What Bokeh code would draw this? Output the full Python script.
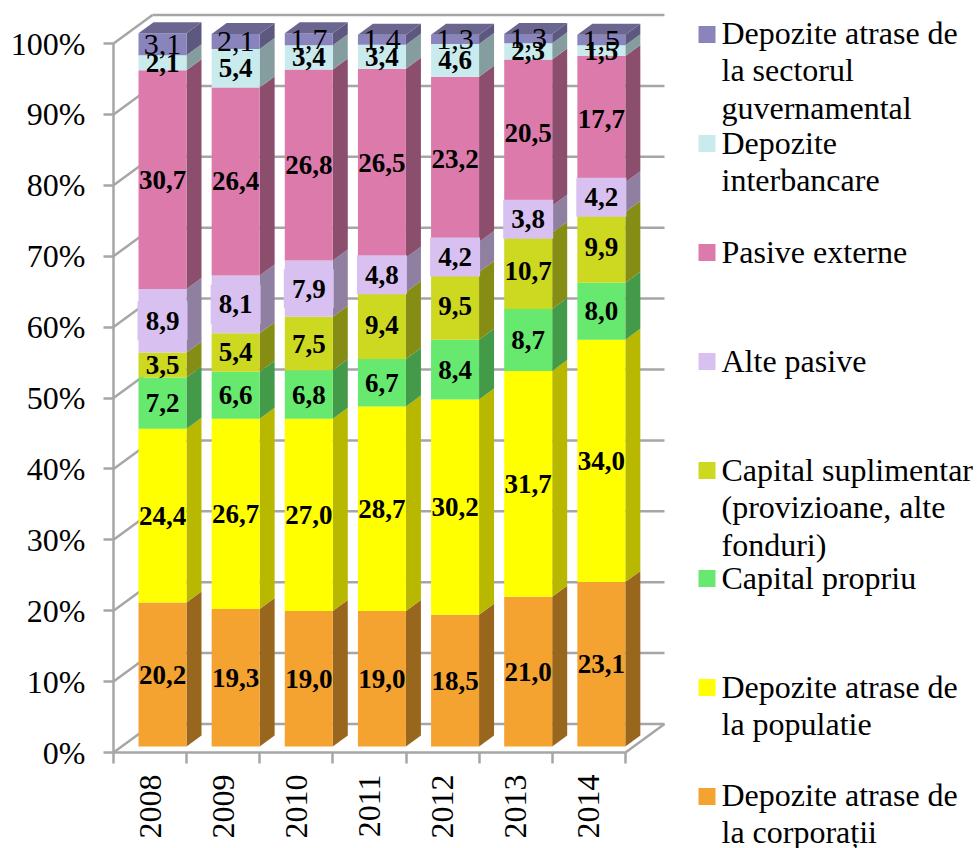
from math import pi

from bokeh.core.properties import value
from bokeh.embed import file_html
from bokeh.models import FixedTicker, LinearAxis, Range1d
from bokeh.plotting import figure
from bokeh.resources import INLINE

years = ["2008", "2009", "2010", "2011", "2012", "2013", "2014"]

# Series listed from the bottom of each stack upwards
corporatii = [20.2, 19.3, 19.0, 19.0, 18.5, 21.0, 23.1]
populatie = [24.4, 26.7, 27.0, 28.7, 30.2, 31.7, 34.0]
capital_propriu = [7.2, 6.6, 6.8, 6.7, 8.4, 8.7, 8.0]
capital_suplimentar = [3.5, 5.4, 7.5, 9.4, 9.5, 10.7, 9.9]
alte_pasive = [8.9, 8.1, 7.9, 4.8, 4.2, 3.8, 4.2]
pasive_externe = [30.7, 26.4, 26.8, 26.5, 23.2, 20.5, 17.7]
interbancare = [2.1, 5.4, 3.4, 3.4, 4.6, 2.3, 1.5]
guvernamental = [3.1, 2.1, 1.7, 1.4, 1.3, 1.3, 1.5]

series_values = [corporatii, populatie, capital_propriu, capital_suplimentar,
                 alte_pasive, pasive_externe, interbancare, guvernamental]
series_names = [["Depozite atrase de", "la corporații"],
                ["Depozite atrase de", "la populatie"],
                ["Capital propriu"],
                ["Capital suplimentar", "(provizioane, alte", "fonduri)"],
                ["Alte pasive"],
                ["Pasive externe"],
                ["Depozite", "interbancare"],
                ["Depozite atrase de", "la sectorul", "guvernamental"]]
series_colors = ["#F4A330", "#FFFF00", "#66E96E", "#CDD820",
                 "#D8C0F0", "#DC7BAB", "#C9EBEE", "#8A84BC"]
side_colors = ["#99661E", "#B8B800", "#439A48", "#868D15",
               "#8F7FA0", "#8C4E6D", "#869D9F", "#5C5880"]
top_colors = ["#B87B24", "#CCCC00", "#52BA58", "#A4AD19",
              "#AD9AC0", "#B0628A", "#A1BCBE", "#6A6690"]
tick_values = list(range(0, 101, 10))

FONT = "Liberation Serif"
GRID = "#A6A6A6"

# One category slot is 73.14 px wide; one percent is 7.09 px tall.
# The frame fills the page, so the axes are pinned inside it.
PX_X = 73.14
PX_Y = 7.09
W, H = 979, 848
AXIS_LEFT, AXIS_BOTTOM = 113, 752


def x_at(px):
    return -0.5 + (px - AXIS_LEFT) / PX_X


def y_at(px):
    return (AXIS_BOTTOM - px) / PX_Y


p = figure(width=W, height=H, output_backend="svg", toolbar_location=None,
           x_range=Range1d(x_at(0), x_at(W)), y_range=Range1d(y_at(H), y_at(0)),
           min_border=0, x_axis_type=None, y_axis_type=None,
           outline_line_color=None,
           background_fill_color="white", border_fill_color="white")
p.xgrid.visible = False
p.ygrid.visible = False

# Walls of the chart box: side diagonals, back wall rules and the floor
wall_dx, wall_dy = 39 / PX_X, 28.5 / PX_Y
right_end = 6.5 + wall_dx
x0 = -0.5
p.multi_line([[x0, x0 + wall_dx] for _ in tick_values],
             [[t, t + wall_dy] for t in tick_values],
             line_color=GRID, line_width=2.5)
p.multi_line([[x0 + wall_dx, right_end] for _ in tick_values],
             [[t + wall_dy, t + wall_dy] for t in tick_values],
             line_color=GRID, line_width=2.5)
p.line([6.5, right_end], [0, wall_dy], line_color=GRID, line_width=2.5)

# Bars sit a little inside the box, with a receding side and cap
BAR_LEFT = 25 / PX_X - 0.5
BAR_W = 48 / PX_X
BAR_BASE = 6 / PX_Y
BAR_SCALE = 1.005
depth_x, depth_y = 15 / PX_X, 11 / PX_Y

cum = [0.0] * len(years)
label_x, label_y, label_t = [], [], []
for s, vals in enumerate(series_values):
    lefts = [i + BAR_LEFT for i in range(len(years))]
    rights = [l + BAR_W for l in lefts]
    bottoms = [BAR_BASE + c * BAR_SCALE for c in cum]
    tops = [BAR_BASE + (c + v) * BAR_SCALE for c, v in zip(cum, vals)]
    side_xs = [[r, r + depth_x, r + depth_x, r] for r in rights]
    side_ys = [[b, b + depth_y, t + depth_y, t] for b, t in zip(bottoms, tops)]
    p.patches(side_xs, side_ys, fill_color=side_colors[s], line_color=None)
    p.quad(left=lefts, right=rights, bottom=bottoms, top=tops,
           fill_color=series_colors[s], line_color=None)
    if s == len(series_values) - 1:
        cap_xs = [[l, r, r + depth_x, l + depth_x] for l, r in zip(lefts, rights)]
        cap_ys = [[t, t, t + depth_y, t + depth_y] for t in tops]
        p.patches(cap_xs, cap_ys, fill_color=top_colors[s], line_color=None)
    label_x.append([(l + r) / 2 for l, r in zip(lefts, rights)])
    label_y.append([(b + t) / 2 for b, t in zip(bottoms, tops)])
    label_t.append([f"{v:.1f}".replace(".", ",") for v in vals])
    cum = [c + v for c, v in zip(cum, vals)]

# The lilac series carries a filled box behind each value
p.rect(label_x[4], label_y[4], width=50, height=39, width_units="screen",
       height_units="screen", fill_color=series_colors[4], line_color=None)

for s in range(len(series_values)):
    top_series = s == len(series_values) - 1
    p.text(label_x[s], label_y[s], text=label_t[s],
           text_font=value(FONT),
           text_font_size="30px" if top_series else "27px",
           text_font_style="normal" if top_series else "bold",
           text_color="black", text_align="center", text_baseline="middle")

# Percent axis
yaxis = LinearAxis(ticker=FixedTicker(ticks=tick_values),
                   major_label_overrides={t: f"{t}%" for t in tick_values},
                   bounds=(0, 100), fixed_location=-0.5,
                   axis_line_color=GRID, axis_line_width=2.5,
                   major_tick_line_color=GRID, major_tick_line_width=2.5,
                   major_tick_in=0, major_tick_out=10, minor_tick_out=0,
                   major_label_standoff=18,
                   major_label_text_font=FONT,
                   major_label_text_font_size="32px",
                   major_label_text_color="black")
p.add_layout(yaxis, "left")

# Year axis: labels at slot centres, tick marks at slot boundaries
slot_centres = list(range(len(years)))
slot_edges = [i - 0.5 for i in range(len(years) + 1)]
xaxis = LinearAxis(ticker=FixedTicker(ticks=slot_centres, minor_ticks=slot_edges),
                   major_label_overrides=dict(zip(slot_centres, years)),
                   bounds=(-0.5, 6.5), fixed_location=0,
                   axis_line_color=GRID, axis_line_width=2.5,
                   major_tick_in=0, major_tick_out=0,
                   minor_tick_line_color=GRID, minor_tick_line_width=2.5,
                   minor_tick_in=0, minor_tick_out=11,
                   major_label_orientation=pi / 2, major_label_standoff=11,
                   major_label_text_font=FONT,
                   major_label_text_font_size="32px",
                   major_label_text_color="black")
p.add_layout(xaxis, "below")

# Legend column: a swatch beside the first line of each entry, top to bottom
ENTRY_CENTRES = [32, 142, 251, 360, 469, 577, 686, 794]
SWATCHES = [34, 143, 252, 361, 470, 578, 687, 796]
LINE_PITCH = 37.5
entries = list(zip(series_names[::-1], series_colors[::-1], ENTRY_CENTRES, SWATCHES))
p.rect([x_at(706.5) for _ in entries], [y_at(e[3]) for e in entries],
       width=17, height=17, width_units="screen", height_units="screen",
       fill_color=[e[1] for e in entries], line_color=None)
line_text, line_y = [], []
for lines, _, centre, _ in entries:
    for n, line in enumerate(lines):
        line_text.append(line)
        line_y.append(y_at(centre + n * LINE_PITCH))
p.text([x_at(721) for _ in line_text], line_y, text=line_text,
       text_font=value(FONT), text_font_size="32px", text_color="black",
       text_align="left", text_baseline="middle")

open("out.html", "w").write(file_html(p, INLINE))
